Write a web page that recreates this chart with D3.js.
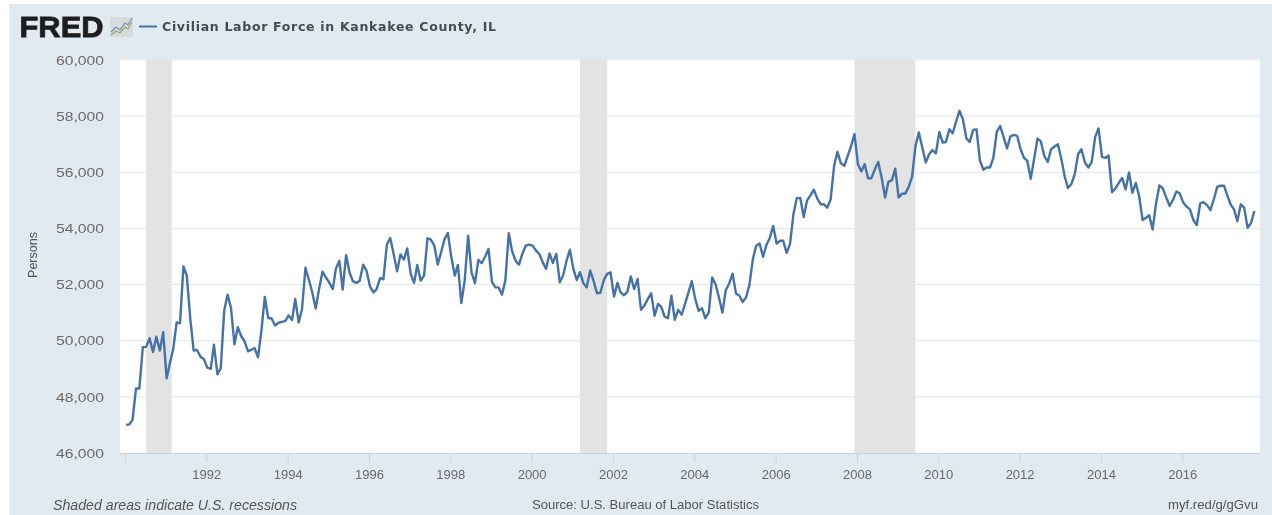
<!DOCTYPE html>
<html><head><meta charset="utf-8">
<script src="https://cdn.jsdelivr.net/npm/d3@7"></script>
<style>html,body{margin:0;padding:0;background:#fff;overflow:hidden}svg{display:block;filter:blur(0.45px)}</style>
</head><body><svg id="c" width="1272" height="515"></svg>
<script>
const title = "Civilian Labor Force in Kankakee County, IL";
const yTicks = [46000,48000,50000,52000,54000,56000,58000,60000];
const xTickYears = [1990,1992,1994,1996,1998,2000,2002,2004,2006,2008,2010,2012,2014,2016];
const recessions = [["1990-07-01","1991-02-15"],["2001-03-01","2001-11-01"],["2007-12-01","2009-06-01"]];
const firstMonth = "1990-01-01";
const v1990s = [
47000,47020,47190,48300,48300,49770,49780,50090,49600,50140,49650,50300,
48660,49230,49700,50650,50620,52650,52320,50800,49650,49670,49430,49350,
49040,49000,49860,48800,49020,51070,51640,51170,49870,50480,50160,49980,
49620,49680,49740,49410,50360,51560,50810,50790,50540,50640,50670,50700,
50900,50740,51490,50650,51130,52600,52180,51720,51150,51840,52460,52260,
52070,51840,52560,52850,51820,53050,52440,52120,52060,52140,52710,52500,
51940,51720,51840,52230,52190,53420,53660,53090,52470,53070,52890,53290,
52380,52060,52700,52140,52320,53650,53600,53390,52710,53150,53620,53840,
52970,52320,52700,51340,52140,53740,52440,52050,52880,52760,53000,53270,
52100,51900,51900,51640,52140,53830,53190,52850,52710,53090,53390,53420];
const v2000s = [
53390,53210,53090,52790,52560,53110,52770,53090,52080,52320,52850,53240,
52560,52160,52440,52050,51900,52500,52140,51690,51710,52160,52380,52440,
51570,52060,51720,51620,51740,52290,51840,52200,51100,51250,51490,51690,
50890,51310,51210,50860,50800,51600,50740,51100,50930,51310,51720,52120,
51480,51060,51160,50800,51000,52250,52010,51540,51000,51800,52040,52390,
51680,51600,51380,51540,51980,52900,53380,53460,52990,53410,53670,54090,
53460,53560,53560,53130,53440,54510,55080,55090,54410,55000,55180,55380,
55060,54860,54860,54740,55040,56230,56730,56320,56230,56580,56940,57360,
56290,56030,56290,55790,55790,56110,56370,55810,55100,55660,55720,56130,
55100,55240,55240,55480,55840,56940,57420,56880,56350,56640,56790,56670];
const v2010s = [
57440,57060,57080,57530,57390,57810,58190,57890,57210,57080,57510,57530,
56410,56090,56170,56170,56510,57440,57650,57260,56850,57270,57330,57300,
56820,56510,56410,55770,56470,57200,57100,56580,56370,56820,56920,57000,
56470,55840,55440,55580,55930,56650,56820,56350,56170,56370,57260,57560,
56550,56510,56600,55290,55420,55620,55800,55390,55990,55270,55620,55150,
54300,54380,54470,53960,54880,55530,55430,55100,54800,55020,55320,55240,
54920,54770,54680,54300,54120,54890,54940,54830,54650,55030,55480,55520,
55520,55160,54860,54680,54260,54860,54740,54020,54200,54620];
const values = [...v1990s, ...v2000s, ...v2010s];

const parse = d3.utcParse("%Y-%m-%d");
const start = parse(firstMonth);
const data = values.map((v,i)=>({d:d3.utcMonth.offset(start,i),v}));
const svg = d3.select("#c");
const lblFont = "'Liberation Sans',Arial,sans-serif";

svg.append("rect").attr("x",9).attr("y",4).attr("width",1263).attr("height",511).attr("fill","#e1e9f1");
const plot = {l:120,r:1260,t:59,b:453};
svg.append("rect").attr("x",plot.l).attr("y",plot.t).attr("width",plot.r-plot.l).attr("height",plot.b-plot.t).attr("fill","#fff");

const x = d3.scaleUtc().domain([start,data[data.length-1].d]).range([126,1254.4]);
const y = d3.scaleLinear().domain([46000,60000]).range([453,60]);

svg.append("g").selectAll("rect").data(recessions).join("rect")
 .attr("x",d=>x(parse(d[0]))).attr("y",plot.t)
 .attr("width",d=>x(parse(d[1]))-x(parse(d[0]))).attr("height",plot.b-plot.t).attr("fill","#e3e3e3");

svg.append("g").selectAll("line").data(yTicks.filter(t=>t>46000)).join("line")
 .attr("x1",plot.l).attr("x2",plot.r).attr("y1",d=>y(d)).attr("y2",d=>y(d))
 .attr("stroke","#e6e6e6").attr("stroke-width",1);

const yAxis = d3.axisLeft(y).tickValues(yTicks).tickFormat(d3.format(",")).tickSize(0).tickPadding(0);
const ga = svg.append("g").attr("transform","translate(104,0)").call(yAxis);
ga.select(".domain").remove();
ga.selectAll("text").attr("font-family",lblFont).attr("font-size",13).attr("fill","#6a6a6a").attr("textLength",48).attr("lengthAdjust","spacingAndGlyphs");

const xAxis = d3.axisBottom(x).tickValues(xTickYears.map(t=>new Date(Date.UTC(t,0,1))))
 .tickFormat(d=>{const t=d.getUTCFullYear();return t===1990?"":String(t);}).tickSize(9).tickPadding(7);
const gx = svg.append("g").attr("transform","translate(-1,453.5)").call(xAxis);
gx.select(".domain").attr("d",`M${plot.l+1},0H${plot.r+1}`).attr("stroke","#c6d3e2");
gx.selectAll(".tick line").attr("stroke","#c6d3e2");
gx.selectAll("text").attr("font-family",lblFont).attr("font-size",13).attr("fill","#6a6a6a");

const line = d3.line().x(d=>x(d.d)).y(d=>y(d.v));
svg.append("path").datum(data).attr("d",line).attr("fill","none").attr("stroke","#4572a7").attr("stroke-width",2.4).attr("stroke-linejoin","round");

svg.append("text").attr("transform","translate(37,255) rotate(-90)").attr("text-anchor","middle")
 .attr("font-family",lblFont).attr("font-size",12.5).attr("fill","#555").text("Persons");

// header
svg.append("text").attr("x",19.5).attr("y",37).attr("font-family",lblFont).attr("font-weight",700)
 .attr("font-size",30).attr("textLength",84).attr("lengthAdjust","spacingAndGlyphs")
 .attr("stroke","#1d1d1d").attr("stroke-width",0.8).attr("fill","#1d1d1d").text("FRED");
const icon = svg.append("g").attr("transform","translate(110,17)");
icon.append("rect").attr("width",23).attr("height",20).attr("fill","#d6dbdc");
icon.append("path").attr("d","M1,15L6,10L10,13L15,6L18,8L22,1").attr("fill","none").attr("stroke","#6f8fb3").attr("stroke-width",1.2);
icon.append("path").attr("d","M1,18L6,14L10,16L15,10L18,12L22,5").attr("fill","none").attr("stroke","#8fae6a").attr("stroke-width",1.2);

svg.append("line").attr("x1",139).attr("x2",157).attr("y1",26.5).attr("y2",26.5).attr("stroke","#4572a7").attr("stroke-width",2);
svg.append("text").attr("x",162).attr("y",31).attr("font-family","'DejaVu Sans',sans-serif").attr("font-weight",700)
 .attr("font-size",12.5).attr("fill","#444c54").attr("textLength",334).attr("lengthAdjust","spacing").text(title);

// footer
svg.append("text").attr("x",53).attr("y",510).attr("font-family",lblFont).attr("font-style","italic")
 .attr("font-size",14).attr("fill","#555").attr("textLength",244).attr("lengthAdjust","spacingAndGlyphs").text("Shaded areas indicate U.S. recessions");
svg.append("text").attr("x",532).attr("y",509).attr("font-family",lblFont)
 .attr("font-size",13).attr("fill","#555").attr("textLength",227).attr("lengthAdjust","spacingAndGlyphs").text("Source: U.S. Bureau of Labor Statistics");
svg.append("text").attr("x",1168).attr("y",509).attr("font-family",lblFont)
 .attr("font-size",13).attr("fill","#555").attr("textLength",90).attr("lengthAdjust","spacingAndGlyphs").text("myf.red/g/gGvu");
</script></body></html>
